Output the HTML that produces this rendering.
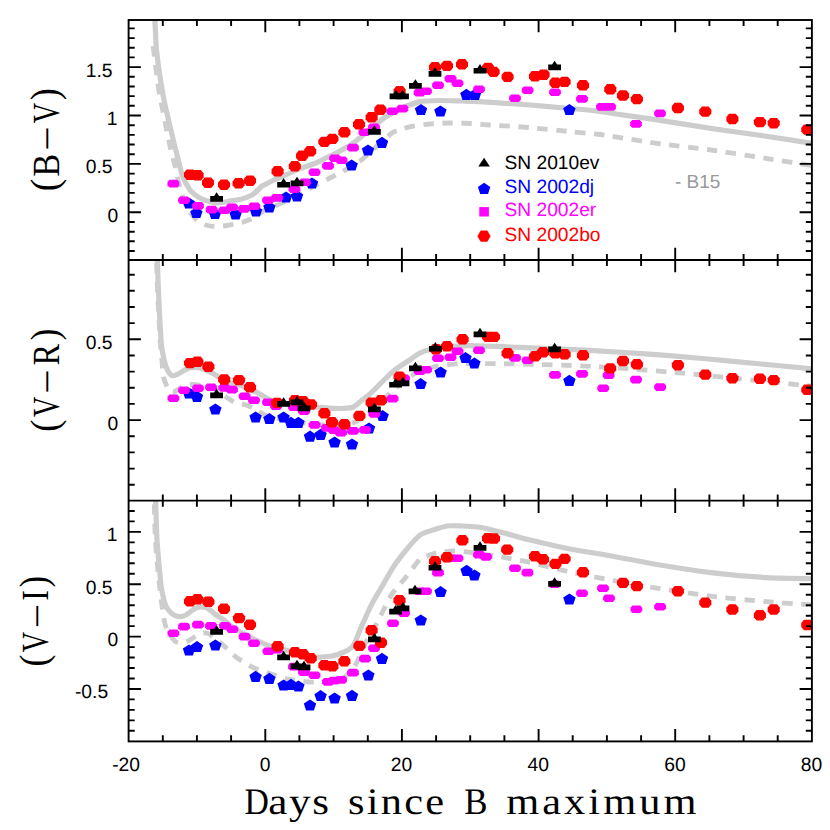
<!DOCTYPE html>
<html><head><meta charset="utf-8"><title>Color curves</title>
<style>html,body{margin:0;padding:0;background:#fff;}body{width:830px;height:830px;overflow:hidden;}svg{display:block;}text{font-family:"Liberation Sans",sans-serif;text-rendering:geometricPrecision;}.ser{font-family:"Liberation Serif",serif;}</style>
</head><body>
<svg width="830" height="830" viewBox="0 0 830 830">
<rect width="830" height="830" fill="#fff"/>
<defs>
<clipPath id="c1"><rect x="128.6" y="20" width="683.3" height="240"/></clipPath>
<clipPath id="c2"><rect x="128.6" y="260" width="683.3" height="240.6"/></clipPath>
<clipPath id="c3"><rect x="128.6" y="500.6" width="683.3" height="240.8"/></clipPath>
<path id="mr" d="M-3.3 -4.9 L3.3 -4.9 L6.05 -1.6 L6.05 2.2 L3.3 5.5 L-3.3 5.5 L-6.05 2.2 L-6.05 -1.6 Z"/>
<path id="mm" d="M-3.9 -3.6 L3.9 -3.6 L5.9 -1.3 L5.9 1.8 L3.9 4.1 L-3.9 4.1 L-5.9 1.8 L-5.9 -1.3 Z"/>
<path id="mb" d="M0 -5.6 L6.2 -1.4 L3.9 5.5 L-3.9 5.5 L-6.2 -1.4 Z"/>
<path id="mk" d="M0 -6.3 L2.5 -2.5 L6.4 -2.5 L6.4 3.2 L-6.4 3.2 L-6.4 -2.5 L-2.5 -2.5 Z"/>
</defs>
<g clip-path="url(#c1)">
<path d="M153.2 46 C153.3 47.2 154 53.2 154.4 56.6 C154.8 60 156.2 70.5 156.8 75 C157.4 79.5 158.9 91 159.6 95 C160.3 99 161.8 105.8 162.6 109.6 C163.4 113.4 165.3 123.6 166.2 128 C167.1 132.4 169.3 143.1 170.3 147.5 C171.3 151.9 173.9 161.3 175 166 C176.1 170.7 178.7 183.3 180 188 C181.3 192.7 184.6 202.8 186 206 C187.4 209.2 190.6 213.2 192 215 C193.4 216.8 196.4 219.8 198 221 C199.6 222.2 204.1 224.4 206 225 C207.9 225.6 211.9 226.3 214 226.4 C216.1 226.5 221.7 226.3 224 226 C226.3 225.7 231.8 224.5 234 224 C236.2 223.5 241 222.6 243 222 C245 221.4 249.2 219.8 251 219 C252.8 218.2 256.4 216.1 258 215 C259.6 213.9 263 211.1 265 210 C267 208.9 272.1 207.3 275 206 C277.9 204.7 286.1 201 290 199 C293.9 197 303.3 191.4 308 189 C312.7 186.6 324.4 180.9 330 178 C335.6 175.1 351.8 166.6 356 164 C360.2 161.4 363.4 158.2 366 156 C368.6 153.8 375 147.7 378 145 C381 142.3 389.2 134.9 392 133 C394.8 131.1 399.7 129.8 402 129 C404.3 128.2 408.7 127 412 126.4 C415.3 125.8 425.6 124.4 430 124 C434.4 123.6 445.3 123.1 450 123 C454.7 122.9 465.3 123.3 470 123.5 C474.7 123.7 483 124.5 490 125 C497 125.5 520.7 126.8 530 127.6 C539.3 128.4 561.8 130.8 570 131.6 C578.2 132.4 595.3 134 600 134.5 C604.7 135 603.5 135 610 136 C616.5 137 643.6 141.5 655.4 143.1 C667.2 144.7 697.9 148.2 710.8 150 C723.7 151.8 753.8 156.5 766 158.4 C778.2 160.3 809.3 165.1 815 166" fill="none" stroke="#cdcdcd" stroke-width="4.8" stroke-dasharray="10.5 8.5" stroke-dashoffset="0" stroke-linejoin="round"/>
<path d="M154.7 18 C154.8 19.4 155.2 26.3 155.4 30 C155.6 33.7 156 45.1 156.5 50 C157 54.9 158.4 66.2 159.3 72 C160.2 77.8 162.6 93.2 164 100 C165.4 106.8 169.7 125 170.9 130 C172.1 135 173.3 140 174 143 C174.7 146 176.3 152.2 177.3 156 C178.3 159.8 181 172 182.5 176 C184 180 188.4 187.7 190 190 C191.6 192.3 194.6 194.4 196 195.5 C197.4 196.6 200.5 198.3 202 199 C203.5 199.7 207.4 201 209 201.5 C210.6 202 214.4 202.9 216 203 C217.6 203.1 221.4 202.7 223 202.5 C224.6 202.3 227.8 201.4 230 201 C232.2 200.6 239.4 199.7 242 199 C244.6 198.3 250.2 195.9 252 195 C253.8 194.1 255.8 192.1 257 191 C258.2 189.9 260.7 186.9 262 186 C263.3 185.1 266.6 183.7 268 183 C269.4 182.3 271.4 181.2 274 180 C276.6 178.8 287.4 174.2 290 173 C292.6 171.8 293 171.2 296 170 C299 168.8 312.5 164.4 316 163 C319.5 161.6 323.2 159.4 326 158 C328.8 156.6 337 152.6 340 151 C343 149.4 349.4 145.8 352 144 C354.6 142.2 359.6 138 362 136 C364.4 134 370.4 129.1 373 127 C375.6 124.9 381.7 119.6 384 118 C386.3 116.4 390.9 114.2 393 113 C395.1 111.8 399.9 109 402 108 C404.1 107 408.9 105.2 411 104.5 C413.1 103.8 416.6 102.1 420 101.6 C423.4 101.1 435.1 100.6 440 100.5 C444.9 100.4 457.3 100.9 462 101 C466.7 101.1 472.1 101.1 480 101.6 C487.9 102.1 519.5 104.2 530 105 C540.5 105.8 561.8 107.8 570 108.5 C578.2 109.2 594.6 110.7 600 111.3 C605.4 111.9 609.5 113 616 114 C622.5 115 644.3 117.9 655.4 119.6 C666.5 121.3 697.9 126.5 710.8 128.4 C723.7 130.3 753.8 134.4 766 136.2 C778.2 138 809.3 142.9 815 143.8" fill="none" stroke="#cdcdcd" stroke-width="5.2" stroke-linejoin="round" stroke-linecap="butt"/>
<g fill="#0000ff"><use href="#mb" x="189" y="203"/><use href="#mb" x="196.4" y="212.6"/><use href="#mb" x="215" y="213.6"/><use href="#mb" x="235.6" y="214"/><use href="#mb" x="256" y="211"/><use href="#mb" x="269.4" y="207"/><use href="#mb" x="286" y="197"/><use href="#mb" x="297" y="196"/><use href="#mb" x="312" y="183"/><use href="#mb" x="351.6" y="165"/><use href="#mb" x="368" y="150"/><use href="#mb" x="382" y="142.4"/><use href="#mb" x="421" y="109.6"/><use href="#mb" x="440.4" y="111"/><use href="#mb" x="466.4" y="94.4"/><use href="#mb" x="475" y="94.4"/><use href="#mb" x="569.4" y="109.6"/></g>
<g fill="#ff00ff"><use href="#mm" x="173.4" y="183.4"/><use href="#mm" x="184" y="200"/><use href="#mm" x="198" y="205.6"/><use href="#mm" x="211.6" y="209.4"/><use href="#mm" x="224.4" y="210"/><use href="#mm" x="232" y="207"/><use href="#mm" x="244" y="208.6"/><use href="#mm" x="254.4" y="206"/><use href="#mm" x="268" y="200"/><use href="#mm" x="277" y="197.6"/><use href="#mm" x="294.4" y="189"/><use href="#mm" x="305" y="182"/><use href="#mm" x="314.5" y="172"/><use href="#mm" x="328" y="165.6"/><use href="#mm" x="335" y="158"/><use href="#mm" x="341.6" y="160"/><use href="#mm" x="353" y="147.4"/><use href="#mm" x="364.4" y="132"/><use href="#mm" x="374" y="127"/><use href="#mm" x="392.4" y="111"/><use href="#mm" x="402.4" y="108.4"/><use href="#mm" x="419.6" y="92.4"/><use href="#mm" x="426" y="91"/><use href="#mm" x="438" y="85"/><use href="#mm" x="450.5" y="78.5"/><use href="#mm" x="457.5" y="83"/><use href="#mm" x="479" y="89"/><use href="#mm" x="515" y="98"/><use href="#mm" x="527.6" y="90"/><use href="#mm" x="555" y="92"/><use href="#mm" x="582" y="98.6"/><use href="#mm" x="602" y="106.6"/><use href="#mm" x="610" y="106.6"/><use href="#mm" x="636" y="123.7"/><use href="#mm" x="660" y="113.2"/></g>
<g fill="#ff0000"><use href="#mr" x="190" y="174.4"/><use href="#mr" x="197.6" y="175"/><use href="#mr" x="208" y="182.4"/><use href="#mr" x="224" y="184.4"/><use href="#mr" x="238.6" y="183"/><use href="#mr" x="250" y="180.4"/><use href="#mr" x="277.6" y="171"/><use href="#mr" x="294.8" y="166"/><use href="#mr" x="302" y="155.5"/><use href="#mr" x="310.2" y="151"/><use href="#mr" x="324.4" y="141.6"/><use href="#mr" x="332.4" y="138.6"/><use href="#mr" x="344.4" y="132"/><use href="#mr" x="359" y="124"/><use href="#mr" x="371.6" y="117"/><use href="#mr" x="380.4" y="109.4"/><use href="#mr" x="399.6" y="91"/><use href="#mr" x="435" y="67"/><use href="#mr" x="447" y="65.6"/><use href="#mr" x="462" y="64"/><use href="#mr" x="488" y="67.6"/><use href="#mr" x="493.6" y="71.6"/><use href="#mr" x="507.6" y="76.6"/><use href="#mr" x="535" y="76"/><use href="#mr" x="543.6" y="74.4"/><use href="#mr" x="555.4" y="82.4"/><use href="#mr" x="564.6" y="81.6"/><use href="#mr" x="583" y="85"/><use href="#mr" x="610.3" y="89"/><use href="#mr" x="623" y="95.2"/><use href="#mr" x="636.9" y="98.8"/><use href="#mr" x="677.9" y="107.7"/><use href="#mr" x="705.3" y="111.3"/><use href="#mr" x="732.4" y="118.7"/><use href="#mr" x="759.9" y="121.8"/><use href="#mr" x="773.7" y="122.9"/><use href="#mr" x="807.3" y="129.3"/></g>
<g fill="#000000"><use href="#mk" x="216.6" y="198.6"/><use href="#mk" x="283.6" y="184.4"/><use href="#mk" x="297" y="183"/><use href="#mk" x="374.4" y="131.6"/><use href="#mk" x="396" y="96"/><use href="#mk" x="402.5" y="96"/><use href="#mk" x="415.4" y="85.6"/><use href="#mk" x="435" y="73.6"/><use href="#mk" x="480" y="70.4"/><use href="#mk" x="554.6" y="67"/></g>
</g>
<g clip-path="url(#c2)">
<path d="M156.5 250 C156.5 251.2 156.5 256.3 156.6 260 C156.7 263.7 157 276.1 157.2 282 C157.4 287.9 158.1 303.4 158.5 310.6 C158.9 317.8 160 338.1 160.4 344 C160.8 349.9 161.7 357.2 162 361 C162.3 364.8 162.7 373.5 163.3 376.5 C163.9 379.5 166.2 384.9 167 386.6 C167.8 388.3 169.3 390.3 170 391 C170.7 391.7 172.1 392.7 173 392.5 C173.9 392.3 176.6 390.3 178 389.5 C179.4 388.7 183.2 386.1 185 385.5 C186.8 384.9 190.7 384.4 193 384.5 C195.3 384.6 202.4 385.5 205 386 C207.6 386.5 212.6 387.7 215 389 C217.4 390.3 223.6 395.4 226 397 C228.4 398.6 233.7 402.1 236 403 C238.3 403.9 243.8 404.3 246 405 C248.2 405.7 252.8 407.8 255 409 C257.2 410.2 261.5 413.7 265 415 C268.5 416.3 280.3 419.1 285 420 C289.7 420.9 299.8 422.4 305 423 C310.2 423.6 325.3 425.3 330 425.5 C334.7 425.7 341.9 425.5 345 425 C348.1 424.5 353.9 422.8 357 421 C360.1 419.2 368.1 413.3 372 410 C375.9 406.7 386.4 396.3 390 393 C393.6 389.7 400 384.3 403 382 C406 379.7 413.2 374.5 416 373 C418.8 371.5 424.4 369.8 427 369 C429.6 368.2 434.4 366.6 438 366 C441.6 365.4 451.2 364.1 458 363.8 C464.8 363.5 487.1 363.5 496 363.6 C504.9 363.7 524.9 364.2 534 364.4 C543.1 364.6 567 365.3 574 365.6 C581 365.9 587.7 366.2 594 366.6 C600.3 367 617.3 367.9 627.7 368.7 C638.1 369.5 670.1 372 683 373.2 C695.9 374.4 725.5 377.4 738.5 378.7 C751.5 380 785.1 383.4 794 384.3 C802.9 385.2 812.5 386.3 815 386.6" fill="none" stroke="#cdcdcd" stroke-width="4.8" stroke-dasharray="10.5 8.5" stroke-dashoffset="6" stroke-linejoin="round"/>
<path d="M157.4 250 C157.4 251.4 157.3 257.9 157.4 262 C157.5 266.1 158 279.3 158.2 285 C158.4 290.7 159 303.7 159.4 310.6 C159.8 317.5 160.8 338.5 161.4 344.4 C162 350.3 163.8 358.3 164.5 361.3 C165.2 364.3 166.6 368.3 167.5 370 C168.4 371.7 170.9 375.1 172 375.6 C173.1 376.1 175.7 375 177 374.5 C178.3 374 181.6 371.8 183 371 C184.4 370.2 187.7 368.4 189 368 C190.3 367.6 192.7 367.5 194 367.5 C195.3 367.5 198.4 367.6 200 368 C201.6 368.4 206.4 370.3 208 371 C209.6 371.7 212.6 373.2 214 374 C215.4 374.8 218.1 376.9 220 378 C221.9 379.1 227.2 382 230 383 C232.8 384 240.7 385.3 244 386.5 C247.3 387.7 255 391.4 258 393 C261 394.6 266.9 398.7 270 400 C273.1 401.3 281.5 403.4 285 404 C288.5 404.6 296.4 405.1 300 405.5 C303.6 405.9 312 406.7 316 407 C320 407.3 329.8 408.3 334 408.4 C338.2 408.5 348.9 408.5 352 407.6 C355.1 406.7 358.9 402.6 361 401 C363.1 399.4 367.3 396.4 370 394 C372.7 391.6 381 382.9 384 380 C387 377.1 393.2 371.2 396 369 C398.8 366.8 405.2 362.9 408 361 C410.8 359.1 417.4 354.3 420 353 C422.6 351.7 427.7 350.1 430 349.5 C432.3 348.9 437.7 347.9 440 347.5 C442.3 347.1 446.5 346.6 450 346.4 C453.5 346.2 463 345.5 470 345.6 C477 345.7 500.7 346.6 510 347 C519.3 347.4 540.7 348.2 550 348.6 C559.3 349 582.3 350 590 350.4 C597.7 350.8 606.7 351.4 616 352 C625.3 352.6 655 354.6 669.3 355.7 C683.6 356.8 721.5 360.2 738.5 361.8 C755.5 363.4 806.1 368.3 815 369.2" fill="none" stroke="#cdcdcd" stroke-width="5.2" stroke-linejoin="round" stroke-linecap="butt"/>
<g fill="#0000ff"><use href="#mb" x="189" y="393"/><use href="#mb" x="197" y="396.4"/><use href="#mb" x="215.4" y="409"/><use href="#mb" x="255.6" y="417"/><use href="#mb" x="269.4" y="418.6"/><use href="#mb" x="283.6" y="417"/><use href="#mb" x="291" y="422.4"/><use href="#mb" x="298.4" y="422.4"/><use href="#mb" x="310" y="436.2"/><use href="#mb" x="320.6" y="434.4"/><use href="#mb" x="334.6" y="442"/><use href="#mb" x="352" y="444"/><use href="#mb" x="369" y="428"/><use href="#mb" x="382.6" y="415.6"/><use href="#mb" x="420.6" y="383.6"/><use href="#mb" x="440.6" y="372"/><use href="#mb" x="465.5" y="357.6"/><use href="#mb" x="474.4" y="363"/><use href="#mb" x="569.4" y="380.4"/></g>
<g fill="#ff00ff"><use href="#mm" x="173.4" y="398"/><use href="#mm" x="184" y="390"/><use href="#mm" x="198" y="388"/><use href="#mm" x="211" y="387"/><use href="#mm" x="224.4" y="387.6"/><use href="#mm" x="232" y="389.4"/><use href="#mm" x="244.6" y="396"/><use href="#mm" x="254" y="400"/><use href="#mm" x="268" y="402"/><use href="#mm" x="276" y="406"/><use href="#mm" x="294" y="407"/><use href="#mm" x="304" y="411"/><use href="#mm" x="314.5" y="424.7"/><use href="#mm" x="327" y="427.6"/><use href="#mm" x="334" y="430"/><use href="#mm" x="341" y="432.4"/><use href="#mm" x="353" y="430.6"/><use href="#mm" x="365" y="429.6"/><use href="#mm" x="374.4" y="413.6"/><use href="#mm" x="392.6" y="398.4"/><use href="#mm" x="404" y="378"/><use href="#mm" x="419.6" y="371"/><use href="#mm" x="426" y="369.5"/><use href="#mm" x="438" y="358"/><use href="#mm" x="450.5" y="357"/><use href="#mm" x="457.5" y="351"/><use href="#mm" x="479" y="350"/><use href="#mm" x="515" y="357.6"/><use href="#mm" x="527.6" y="360"/><use href="#mm" x="555" y="374.6"/><use href="#mm" x="582" y="373.6"/><use href="#mm" x="608.6" y="375"/><use href="#mm" x="603.2" y="388"/><use href="#mm" x="636" y="379.3"/><use href="#mm" x="660.1" y="386.8"/></g>
<g fill="#ff0000"><use href="#mr" x="190" y="362.8"/><use href="#mr" x="197.4" y="361.5"/><use href="#mr" x="208.4" y="366.4"/><use href="#mr" x="224.2" y="379.2"/><use href="#mr" x="239" y="379.8"/><use href="#mr" x="250" y="387"/><use href="#mr" x="277" y="402.6"/><use href="#mr" x="295" y="400"/><use href="#mr" x="303" y="400.8"/><use href="#mr" x="311" y="404.2"/><use href="#mr" x="324.4" y="413"/><use href="#mr" x="332" y="422"/><use href="#mr" x="344.4" y="424"/><use href="#mr" x="359.4" y="415.6"/><use href="#mr" x="371.6" y="402.4"/><use href="#mr" x="381" y="400"/><use href="#mr" x="399.6" y="376.4"/><use href="#mr" x="436" y="349"/><use href="#mr" x="447" y="346"/><use href="#mr" x="462.6" y="339"/><use href="#mr" x="488" y="336.6"/><use href="#mr" x="494" y="336.6"/><use href="#mr" x="507.6" y="353"/><use href="#mr" x="535" y="356"/><use href="#mr" x="543" y="352"/><use href="#mr" x="555.4" y="353"/><use href="#mr" x="564.6" y="354"/><use href="#mr" x="583" y="355"/><use href="#mr" x="610.2" y="368.1"/><use href="#mr" x="623" y="360.7"/><use href="#mr" x="636.9" y="364"/><use href="#mr" x="677.9" y="364.9"/><use href="#mr" x="705.3" y="374.3"/><use href="#mr" x="732.4" y="377.9"/><use href="#mr" x="759.9" y="378.4"/><use href="#mr" x="773.7" y="379.8"/><use href="#mr" x="807.3" y="389.5"/></g>
<g fill="#000000"><use href="#mk" x="216.6" y="395"/><use href="#mk" x="283.6" y="403.6"/><use href="#mk" x="297" y="402"/><use href="#mk" x="304" y="408"/><use href="#mk" x="374.4" y="409"/><use href="#mk" x="395.6" y="384.4"/><use href="#mk" x="403" y="383"/><use href="#mk" x="415.4" y="368"/><use href="#mk" x="435.4" y="348.4"/><use href="#mk" x="480" y="334"/><use href="#mk" x="554.6" y="349"/></g>
</g>
<g clip-path="url(#c3)">
<path d="M154.2 490 C154.2 491.4 154.2 496.3 154.3 502 C154.4 507.7 154.9 531 155.3 538.6 C155.7 546.2 157.1 561.9 157.6 567.5 C158.1 573.1 159.1 582.6 159.6 586.7 C160.1 590.8 161.1 599 161.6 603 C162.1 607 163.6 617.6 164.3 621 C165 624.4 166.8 629.7 168 632 C169.2 634.3 173.2 639.7 174.7 641 C176.2 642.3 179.4 643 181 643 C182.6 643 186.9 641.5 188.7 640.7 C190.4 639.9 194.3 636.9 196 636 C197.7 635.1 202 633.2 203.6 633 C205.2 632.8 207.9 633.2 210 634.5 C212.1 635.8 219 641.4 222 644 C225 646.6 232.5 654.3 236 657 C239.5 659.7 248.3 665.1 252 667 C255.7 668.9 263.8 671.6 268 673 C272.2 674.4 283.3 678 288 679 C292.7 680 303.7 681.6 308 682 C312.3 682.4 321.6 682.2 325 682 C328.4 681.8 334.6 680.7 337 680 C339.4 679.3 343.8 677.9 346 676 C348.2 674.1 353.9 667.5 356 664 C358.1 660.5 362.4 649.4 364 646 C365.6 642.6 368.5 637.7 370 635 C371.5 632.3 375.4 626 377 623 C378.6 620 382.2 612.4 384 609 C385.8 605.6 389.4 597.7 392 594 C394.6 590.3 402.7 581.1 406 577 C409.3 572.9 417.6 561.5 420 559 C422.4 556.5 425.4 556.6 427 556 C428.6 555.4 432 554.1 434 553.6 C436 553.1 441.7 552.3 444 552 C446.3 551.7 451 551 454 551 C457 551 465.1 551.8 470 552.4 C474.9 553 489 554.8 496 556 C503 557.2 521.4 560.5 530 562.4 C538.6 564.3 560.7 569.9 570 572 C579.3 574.1 600.7 578.2 610 580 C619.3 581.8 638.2 585.1 650 587 C661.8 588.9 697.2 594.5 710.8 596.2 C724.4 597.9 754.1 600.7 766.3 601.7 C778.5 602.7 809.3 604.6 815 605" fill="none" stroke="#cdcdcd" stroke-width="4.8" stroke-dasharray="10.5 8.5" stroke-dashoffset="4.5" stroke-linejoin="round"/>
<path d="M155.6 490 C155.6 491.4 155.5 496.3 155.7 502 C155.9 507.7 156.5 531 156.9 538.6 C157.3 546.2 158.8 561.9 159.3 567.5 C159.8 573.1 160.6 582.7 161.2 586.7 C161.8 590.7 163.7 599.5 164.5 602.2 C165.3 604.9 166.9 608 168 609.5 C169.1 611 172.5 614.2 174 615 C175.5 615.8 179.1 616.6 180.5 616.6 C181.9 616.6 184.9 615.5 186 615 C187.1 614.5 188.9 612.8 190 612 C191.1 611.2 193.9 609.1 195 608.5 C196.1 607.9 198.8 607.2 199.8 607 C200.9 606.8 203 607 204 607.2 C205 607.4 206.5 607.5 208 608.5 C209.5 609.5 215.1 614.4 217 615.7 C218.9 617 222.5 618.9 224 620 C225.5 621.1 227.9 623.5 230 625 C232.1 626.5 238.7 631.1 242 633 C245.3 634.9 254.7 639.5 258 641 C261.3 642.5 267.2 645.1 270 646 C272.8 646.9 278.5 648.1 282 649 C285.5 649.9 296 653.1 300 654 C304 654.9 312.3 656.8 316 657 C319.7 657.2 328.9 656.5 332 656 C335.1 655.5 340.7 653.5 343 652.5 C345.3 651.5 350.5 648.5 352 647 C353.5 645.5 355.1 642 356 640 C356.9 638 358.6 633.3 360 630 C361.4 626.7 366.4 615.5 368 612 C369.6 608.5 372.1 603.4 374 600 C375.9 596.6 381.7 587 384 583 C386.3 579 391.3 570 394 566 C396.7 562 404 552.6 407 549 C410 545.4 417 537.2 420 535 C423 532.8 429.9 531 433 530 C436.1 529 443.6 526.5 447 526 C450.4 525.5 458.4 525.9 462 526 C465.6 526.1 474.7 526.6 478 527 C481.3 527.4 486.7 528.7 490 529.5 C493.3 530.3 501.3 532.3 506 533.5 C510.7 534.7 522.5 538.2 530 540 C537.5 541.8 560.7 547.2 570 549 C579.3 550.8 600 553.9 610 555.7 C620 557.5 643.6 562.3 655.4 564.3 C667.2 566.3 697.9 571 710.8 572.6 C723.7 574.2 754.1 576.9 766.3 577.6 C778.5 578.3 809.3 578.7 815 578.8" fill="none" stroke="#cdcdcd" stroke-width="5.2" stroke-linejoin="round" stroke-linecap="butt"/>
<g fill="#0000ff"><use href="#mb" x="189" y="650"/><use href="#mb" x="197" y="646.6"/><use href="#mb" x="215.4" y="645"/><use href="#mb" x="255.6" y="676.4"/><use href="#mb" x="269.4" y="678.4"/><use href="#mb" x="283.6" y="685"/><use href="#mb" x="291" y="684.4"/><use href="#mb" x="298.4" y="686"/><use href="#mb" x="310" y="705"/><use href="#mb" x="320.6" y="695.6"/><use href="#mb" x="334.6" y="698"/><use href="#mb" x="352" y="695.4"/><use href="#mb" x="368.4" y="675"/><use href="#mb" x="382" y="658.4"/><use href="#mb" x="420.8" y="620"/><use href="#mb" x="440.6" y="591.6"/><use href="#mb" x="466.6" y="570.4"/><use href="#mb" x="474.4" y="575"/><use href="#mb" x="569.4" y="599"/></g>
<g fill="#ff00ff"><use href="#mm" x="173.4" y="633"/><use href="#mm" x="184" y="626.4"/><use href="#mm" x="198" y="624.4"/><use href="#mm" x="211" y="625.6"/><use href="#mm" x="225" y="625.6"/><use href="#mm" x="232.4" y="629"/><use href="#mm" x="244.6" y="636.4"/><use href="#mm" x="254" y="643"/><use href="#mm" x="268.4" y="651"/><use href="#mm" x="277" y="649.5"/><use href="#mm" x="294" y="666.4"/><use href="#mm" x="304" y="672"/><use href="#mm" x="314.5" y="675"/><use href="#mm" x="328" y="681.6"/><use href="#mm" x="334" y="680.4"/><use href="#mm" x="341" y="679.6"/><use href="#mm" x="353" y="672.4"/><use href="#mm" x="365" y="658.4"/><use href="#mm" x="374" y="648"/><use href="#mm" x="393" y="623"/><use href="#mm" x="404" y="613"/><use href="#mm" x="419.6" y="591"/><use href="#mm" x="426" y="591"/><use href="#mm" x="438" y="572.4"/><use href="#mm" x="450.5" y="558"/><use href="#mm" x="457.5" y="558"/><use href="#mm" x="479" y="554.4"/><use href="#mm" x="486" y="556.6"/><use href="#mm" x="515" y="568"/><use href="#mm" x="527.4" y="572.4"/><use href="#mm" x="554.6" y="584"/><use href="#mm" x="582" y="593"/><use href="#mm" x="603" y="588"/><use href="#mm" x="609" y="598"/><use href="#mm" x="636.4" y="609"/><use href="#mm" x="660.1" y="606.5"/></g>
<g fill="#ff0000"><use href="#mr" x="190" y="601"/><use href="#mr" x="197.4" y="599"/><use href="#mr" x="208.4" y="601.5"/><use href="#mr" x="224" y="608.4"/><use href="#mr" x="239" y="617.8"/><use href="#mr" x="250" y="624.4"/><use href="#mr" x="277.6" y="646"/><use href="#mr" x="295" y="652"/><use href="#mr" x="303" y="654"/><use href="#mr" x="310.7" y="658"/><use href="#mr" x="324.4" y="665"/><use href="#mr" x="332.4" y="666"/><use href="#mr" x="344.4" y="661"/><use href="#mr" x="359.4" y="645.6"/><use href="#mr" x="371.6" y="630"/><use href="#mr" x="381" y="642.4"/><use href="#mr" x="399.5" y="600"/><use href="#mr" x="435" y="561"/><use href="#mr" x="447" y="557"/><use href="#mr" x="462.4" y="540"/><use href="#mr" x="488" y="538"/><use href="#mr" x="494" y="538.2"/><use href="#mr" x="507.2" y="549.3"/><use href="#mr" x="535" y="556"/><use href="#mr" x="543" y="559"/><use href="#mr" x="555.4" y="563.6"/><use href="#mr" x="564.6" y="558.6"/><use href="#mr" x="583" y="572"/><use href="#mr" x="623" y="582.6"/><use href="#mr" x="636.9" y="585.8"/><use href="#mr" x="677.9" y="590.9"/><use href="#mr" x="705.3" y="602.3"/><use href="#mr" x="732.4" y="609.2"/><use href="#mr" x="759.9" y="615"/><use href="#mr" x="773.7" y="609.2"/><use href="#mr" x="807.3" y="624.7"/></g>
<g fill="#000000"><use href="#mk" x="216.6" y="631.6"/><use href="#mk" x="283.6" y="657"/><use href="#mk" x="297" y="666"/><use href="#mk" x="304" y="667"/><use href="#mk" x="374.4" y="639"/><use href="#mk" x="395.6" y="611.3"/><use href="#mk" x="403" y="608"/><use href="#mk" x="415" y="591"/><use href="#mk" x="435" y="567.4"/><use href="#mk" x="480" y="547.6"/><use href="#mk" x="554.6" y="583.6"/></g>
</g>
<g stroke="#000" stroke-width="1.9" fill="none" stroke-linecap="butt">
<rect x="128.6" y="20" width="683.3" height="721.4"/>
<path d="M128.6 260 H811.9 M128.6 500.6 H811.9"/>
<path d="M162.8 20 v6.1 M162.8 253.9 v12.2 M162.8 494.5 v12.2 M162.8 735.3 v6.1 M196.9 20 v6.1 M196.9 253.9 v12.2 M196.9 494.5 v12.2 M196.9 735.3 v6.1 M231.1 20 v6.1 M231.1 253.9 v12.2 M231.1 494.5 v12.2 M231.1 735.3 v6.1 M265.3 20 v12.3 M265.3 247.7 v24.6 M265.3 488.3 v24.6 M265.3 729.1 v12.3 M299.4 20 v6.1 M299.4 253.9 v12.2 M299.4 494.5 v12.2 M299.4 735.3 v6.1 M333.6 20 v6.1 M333.6 253.9 v12.2 M333.6 494.5 v12.2 M333.6 735.3 v6.1 M367.8 20 v6.1 M367.8 253.9 v12.2 M367.8 494.5 v12.2 M367.8 735.3 v6.1 M401.9 20 v12.3 M401.9 247.7 v24.6 M401.9 488.3 v24.6 M401.9 729.1 v12.3 M436.1 20 v6.1 M436.1 253.9 v12.2 M436.1 494.5 v12.2 M436.1 735.3 v6.1 M470.2 20 v6.1 M470.2 253.9 v12.2 M470.2 494.5 v12.2 M470.2 735.3 v6.1 M504.4 20 v6.1 M504.4 253.9 v12.2 M504.4 494.5 v12.2 M504.4 735.3 v6.1 M538.6 20 v12.3 M538.6 247.7 v24.6 M538.6 488.3 v24.6 M538.6 729.1 v12.3 M572.7 20 v6.1 M572.7 253.9 v12.2 M572.7 494.5 v12.2 M572.7 735.3 v6.1 M606.9 20 v6.1 M606.9 253.9 v12.2 M606.9 494.5 v12.2 M606.9 735.3 v6.1 M641.1 20 v6.1 M641.1 253.9 v12.2 M641.1 494.5 v12.2 M641.1 735.3 v6.1 M675.2 20 v12.3 M675.2 247.7 v24.6 M675.2 488.3 v24.6 M675.2 729.1 v12.3 M709.4 20 v6.1 M709.4 253.9 v12.2 M709.4 494.5 v12.2 M709.4 735.3 v6.1 M743.6 20 v6.1 M743.6 253.9 v12.2 M743.6 494.5 v12.2 M743.6 735.3 v6.1 M777.7 20 v6.1 M777.7 253.9 v12.2 M777.7 494.5 v12.2 M777.7 735.3 v6.1 M128.6 251 h6.1 M811.9 251 h-6.1 M128.6 241.3 h6.1 M811.9 241.3 h-6.1 M128.6 231.7 h6.1 M811.9 231.7 h-6.1 M128.6 222 h6.1 M811.9 222 h-6.1 M128.6 212.3 h12.3 M811.9 212.3 h-12.3 M128.6 202.6 h6.1 M811.9 202.6 h-6.1 M128.6 192.9 h6.1 M811.9 192.9 h-6.1 M128.6 183.3 h6.1 M811.9 183.3 h-6.1 M128.6 173.6 h6.1 M811.9 173.6 h-6.1 M128.6 163.9 h12.3 M811.9 163.9 h-12.3 M128.6 154.2 h6.1 M811.9 154.2 h-6.1 M128.6 144.5 h6.1 M811.9 144.5 h-6.1 M128.6 134.9 h6.1 M811.9 134.9 h-6.1 M128.6 125.2 h6.1 M811.9 125.2 h-6.1 M128.6 115.5 h12.3 M811.9 115.5 h-12.3 M128.6 105.8 h6.1 M811.9 105.8 h-6.1 M128.6 96.1 h6.1 M811.9 96.1 h-6.1 M128.6 86.5 h6.1 M811.9 86.5 h-6.1 M128.6 76.8 h6.1 M811.9 76.8 h-6.1 M128.6 67.1 h12.3 M811.9 67.1 h-12.3 M128.6 57.4 h6.1 M811.9 57.4 h-6.1 M128.6 47.7 h6.1 M811.9 47.7 h-6.1 M128.6 38.1 h6.1 M811.9 38.1 h-6.1 M128.6 28.4 h6.1 M811.9 28.4 h-6.1 M128.6 484.7 h6.1 M811.9 484.7 h-6.1 M128.6 468.6 h6.1 M811.9 468.6 h-6.1 M128.6 452.4 h6.1 M811.9 452.4 h-6.1 M128.6 436.3 h6.1 M811.9 436.3 h-6.1 M128.6 420.1 h12.3 M811.9 420.1 h-12.3 M128.6 403.9 h6.1 M811.9 403.9 h-6.1 M128.6 387.8 h6.1 M811.9 387.8 h-6.1 M128.6 371.6 h6.1 M811.9 371.6 h-6.1 M128.6 355.5 h6.1 M811.9 355.5 h-6.1 M128.6 339.3 h12.3 M811.9 339.3 h-12.3 M128.6 323.1 h6.1 M811.9 323.1 h-6.1 M128.6 307 h6.1 M811.9 307 h-6.1 M128.6 290.8 h6.1 M811.9 290.8 h-6.1 M128.6 274.7 h6.1 M811.9 274.7 h-6.1 M128.6 730.8 h6.1 M811.9 730.8 h-6.1 M128.6 720.4 h6.1 M811.9 720.4 h-6.1 M128.6 709.9 h6.1 M811.9 709.9 h-6.1 M128.6 699.4 h6.1 M811.9 699.4 h-6.1 M128.6 689 h12.3 M811.9 689 h-12.3 M128.6 678.5 h6.1 M811.9 678.5 h-6.1 M128.6 668 h6.1 M811.9 668 h-6.1 M128.6 657.5 h6.1 M811.9 657.5 h-6.1 M128.6 647.1 h6.1 M811.9 647.1 h-6.1 M128.6 636.6 h12.3 M811.9 636.6 h-12.3 M128.6 626.1 h6.1 M811.9 626.1 h-6.1 M128.6 615.7 h6.1 M811.9 615.7 h-6.1 M128.6 605.2 h6.1 M811.9 605.2 h-6.1 M128.6 594.7 h6.1 M811.9 594.7 h-6.1 M128.6 584.2 h12.3 M811.9 584.2 h-12.3 M128.6 573.8 h6.1 M811.9 573.8 h-6.1 M128.6 563.3 h6.1 M811.9 563.3 h-6.1 M128.6 552.8 h6.1 M811.9 552.8 h-6.1 M128.6 542.4 h6.1 M811.9 542.4 h-6.1 M128.6 531.9 h12.3 M811.9 531.9 h-12.3 M128.6 521.4 h6.1 M811.9 521.4 h-6.1 M128.6 511 h6.1 M811.9 511 h-6.1"/>
</g>
<g font-size="19.3" fill="#000">
<text x="126.1" y="770.6" text-anchor="middle">-20</text>
<text x="265" y="770.6" text-anchor="middle">0</text>
<text x="401.6" y="770.6" text-anchor="middle">20</text>
<text x="538.3" y="770.6" text-anchor="middle">40</text>
<text x="674.9" y="770.6" text-anchor="middle">60</text>
<text x="811.6" y="770.6" text-anchor="middle">80</text>
<text x="112.6" y="76.5" text-anchor="end">1.5</text>
<text x="117.6" y="124.9" text-anchor="end">1</text>
<text x="112.6" y="173.3" text-anchor="end">0.5</text>
<text x="118.3" y="221.7" text-anchor="end">0</text>
<text x="112.6" y="348.7" text-anchor="end">0.5</text>
<text x="118.3" y="429.5" text-anchor="end">0</text>
<text x="117.6" y="541.3" text-anchor="end">1</text>
<text x="112.6" y="593.6" text-anchor="end">0.5</text>
<text x="118.3" y="646" text-anchor="end">0</text>
<text x="108.2" y="698.4" text-anchor="end">-0.5</text>
</g>
<text class="ser" font-size="38.4" transform="translate(58.5 185) rotate(-90) scale(0.964 1.042)" x="-6.6" y="-0.9">(</text>
<text class="ser" font-size="38.4" transform="translate(58.5 165.7) rotate(-90) scale(0.898 1.000)" x="-12.3" y="0">B</text>
<text class="ser" font-size="38.4" transform="translate(58.5 138.6) rotate(-90) scale(1.127 1.000)" x="-10.8" y="1.9">−</text>
<text class="ser" font-size="38.4" transform="translate(58.5 113.2) rotate(-90) scale(0.735 1.000)" x="-13.8" y="0">V</text>
<text class="ser" font-size="38.4" transform="translate(58.5 94.5) rotate(-90) scale(0.945 1.042)" x="-6.2" y="-0.9">)</text>
<text class="ser" font-size="38.4" transform="translate(58.5 425.5) rotate(-90) scale(0.945 1.042)" x="-6.6" y="-0.9">(</text>
<text class="ser" font-size="38.4" transform="translate(58.5 406.8) rotate(-90) scale(0.735 1.000)" x="-13.8" y="0">V</text>
<text class="ser" font-size="38.4" transform="translate(58.5 381.5) rotate(-90) scale(1.127 1.000)" x="-10.8" y="1.9">−</text>
<text class="ser" font-size="38.4" transform="translate(58.5 354.5) rotate(-90) scale(0.842 1.000)" x="-13.2" y="0">R</text>
<text class="ser" font-size="38.4" transform="translate(58.5 334.7) rotate(-90) scale(0.927 1.042)" x="-6.2" y="-0.9">)</text>
<text class="ser" font-size="38.4" transform="translate(48.2 660.3) rotate(-90) scale(0.927 1.042)" x="-6.6" y="-0.9">(</text>
<text class="ser" font-size="38.4" transform="translate(48.2 642) rotate(-90) scale(0.735 1.000)" x="-13.8" y="0">V</text>
<text class="ser" font-size="38.4" transform="translate(48.2 616.1) rotate(-90) scale(1.127 1.000)" x="-10.8" y="1.9">−</text>
<text class="ser" font-size="38.4" transform="translate(48.2 595.3) rotate(-90) scale(0.834 1.000)" x="-6.6" y="0">I</text>
<text class="ser" font-size="38.4" transform="translate(48.2 581.9) rotate(-90) scale(0.908 1.042)" x="-6.2" y="-0.9">)</text>
<text class="ser" font-size="37.5" transform="translate(244.6 814.2) scale(0.900 1)" letter-spacing="0">D</text>
<text class="ser" font-size="37.5" transform="translate(268.2 814.2) scale(1.150 1)" letter-spacing="1.5">ays</text>
<text class="ser" font-size="37.5" transform="translate(348 814.2) scale(1.130 1)" letter-spacing="2">since</text>
<text class="ser" font-size="37.5" transform="translate(464.3 814.2) scale(0.930 1)" letter-spacing="0">B</text>
<text class="ser" font-size="37.5" transform="translate(506.2 814.2) scale(1.130 1)" letter-spacing="2.7">maximum</text>
<g font-size="19.2">
<path d="M484.1 157.7 L489.9 166.6 L478.3 166.6 Z" fill="#000"/>
<text x="504.5" y="168.9" fill="#000">SN 2010ev</text>
<use href="#mb" x="484.1" y="188.4" fill="#0000ff"/>
<text x="504.5" y="192.5" fill="#0000ff">SN 2002dj</text>
<rect x="479.3" y="207.1" width="9.6" height="9.4" fill="#ff00ff"/>
<text x="504.5" y="216.2" fill="#ff00ff">SN 2002er</text>
<path d="M477.4 236.2 L480.7 230.6 L487.3 230.6 L490.6 236.2 L487.3 241.8 L480.7 241.8 Z" fill="#ff0000"/>
<text x="504.5" y="240.6" fill="#ff0000">SN 2002bo</text>
<text x="675" y="187.9" font-size="19" fill="#999">- B15</text>
</g>
</svg></body></html>
